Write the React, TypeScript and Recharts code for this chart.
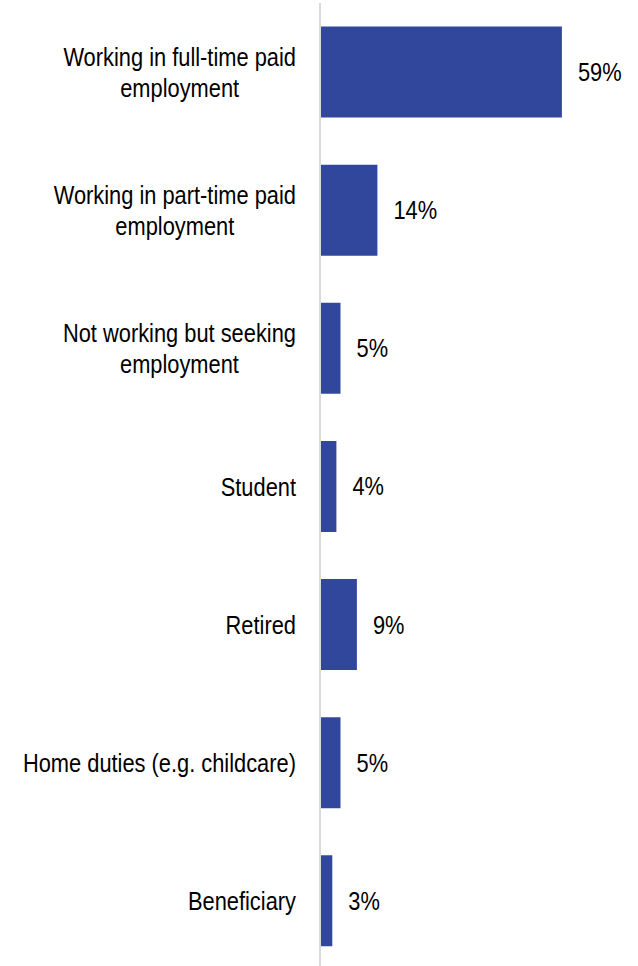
import { BarChart, Bar, XAxis, YAxis, LabelList, Cell } from 'recharts';

const CATEGORIES = [
  'Working in full-time paid\nemployment',
  'Working in part-time paid\nemployment',
  'Not working but seeking\nemployment',
  'Student',
  'Retired',
  'Home duties (e.g. childcare)',
  'Beneficiary',
];
const VALUES = [59, 14, 5, 4, 9, 5, 3];

const BAR_COLOR = '#30479B';
const FONT = "'Liberation Sans', Arial, sans-serif";
const FONT_SIZE = 26;
const LINE_H = 31;
// no narrow face installed, so squeeze the regular one horizontally
const SQUEEZE = 0.84;

const data = CATEGORIES.map((name, i) => ({ name, value: VALUES[i] }));

const squeezeAt = (x: number) => `translate(${x},0) scale(${SQUEEZE},1) translate(${-x},0)`;

let ctx: CanvasRenderingContext2D | null = null;
function measure(s: string) {
  if (!ctx) {
    ctx = document.createElement('canvas').getContext('2d');
    if (ctx) ctx.font = `${FONT_SIZE}px ${FONT}`;
  }
  return ctx ? ctx.measureText(s).width : s.length * FONT_SIZE * 0.5;
}

// lines are centred on each other, the block is right-aligned to the axis
function WrappedTick(props: any) {
  const { x, y, payload } = props;
  const lines = String(payload.value).split('\n');
  const top = y - ((lines.length - 1) * LINE_H) / 2;
  const blockW = Math.max(...lines.map(measure));
  const cx = x - blockW / 2;
  return (
    <g transform={squeezeAt(x)}>
      <text x={cx} y={y} textAnchor="middle" fill="#000" fontSize={FONT_SIZE} fontFamily={FONT}>
        {lines.map((line, i) => (
          <tspan key={i} x={cx} y={top + i * LINE_H} dy="0.35em">
            {line}
          </tspan>
        ))}
      </text>
    </g>
  );
}

function ValueLabel(props: any) {
  const { x, y, width, height, value } = props;
  const tx = x + width + 16;
  const ty = y + height / 2;
  return (
    <text
      x={tx}
      y={ty}
      dy="0.35em"
      textAnchor="start"
      fill="#000"
      fontSize={FONT_SIZE}
      fontFamily={FONT}
      transform={squeezeAt(tx)}
    >
      {`${value}%`}
    </text>
  );
}

export default function App() {
  return (
    <div style={{ position: 'absolute', left: 0, top: 0, width: 638, height: 966, overflow: 'hidden', background: '#fff' }}>
      <BarChart
        width={638}
        height={972}
        data={data}
        layout="vertical"
        margin={{ top: 3, right: 31, bottom: 2, left: 0 }}
        barCategoryGap="17%"
      >
        <XAxis type="number" domain={[0, 70]} hide />
        <YAxis
          type="category"
          dataKey="name"
          width={320}
          tickLine={false}
          tickSize={0}
          tickMargin={24}
          axisLine={{ stroke: '#d9d9d9', strokeWidth: 2 }}
          tick={<WrappedTick />}
          interval={0}
        />
        <Bar dataKey="value" fill={BAR_COLOR} isAnimationActive={false}>
          {data.map((_, i) => (
            <Cell key={i} fill={BAR_COLOR} />
          ))}
          <LabelList dataKey="value" content={<ValueLabel />} />
        </Bar>
      </BarChart>
    </div>
  );
}
